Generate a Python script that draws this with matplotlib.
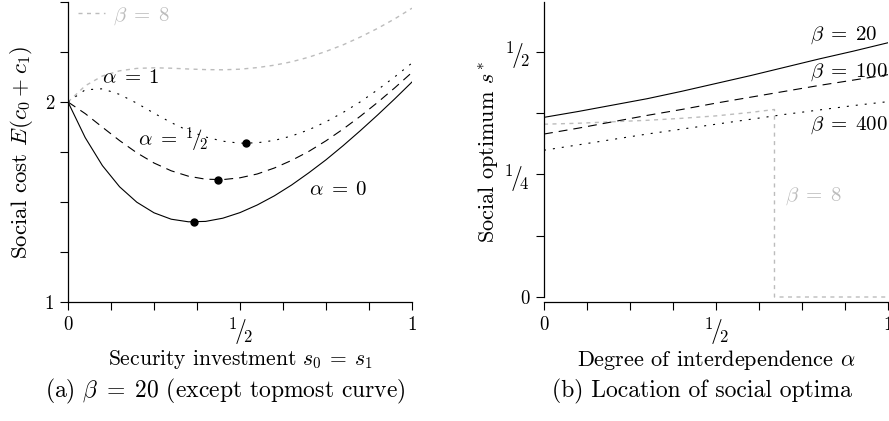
import matplotlib
matplotlib.use('Agg')
import matplotlib.pyplot as plt

plt.rcParams['font.family'] = 'cmr10'
plt.rcParams['mathtext.fontset'] = 'cm'
plt.rcParams['axes.unicode_minus'] = False
plt.rcParams['axes.formatter.use_mathtext'] = True

# ---------------- data: panel (a) ----------------
s_invest = [0.00, 0.05, 0.10, 0.15, 0.20, 0.25, 0.30, 0.35, 0.40, 0.45, 0.50,
            0.55, 0.60, 0.65, 0.70, 0.75, 0.80, 0.85, 0.90, 0.95, 1.00]
cost_alpha0 = [2.000, 1.822, 1.682, 1.576, 1.499, 1.446, 1.414, 1.401, 1.403, 1.419, 1.447,
               1.485, 1.531, 1.585, 1.646, 1.711, 1.782, 1.857, 1.935, 2.016, 2.100]
cost_alpha05 = [2.000, 1.942, 1.874, 1.807, 1.746, 1.695, 1.656, 1.629, 1.614, 1.612, 1.621,
                1.640, 1.670, 1.708, 1.753, 1.806, 1.865, 1.929, 1.998, 2.071, 2.148]
cost_alpha1 = [2.000, 2.061, 2.066, 2.038, 1.994, 1.944, 1.897, 1.856, 1.825, 1.804, 1.794,
               1.796, 1.808, 1.830, 1.861, 1.901, 1.948, 2.001, 2.061, 2.126, 2.195]
cost_beta8 = [2.000, 2.081, 2.130, 2.156, 2.168, 2.171, 2.169, 2.165, 2.162, 2.161, 2.164,
              2.172, 2.184, 2.201, 2.224, 2.253, 2.286, 2.325, 2.368, 2.416, 2.469]
opt_invest = [0.366, 0.435, 0.518]
opt_cost = [1.400, 1.611, 1.794]

# ---------------- data: panel (b) ----------------
alpha = [0.0, 0.1, 0.2, 0.3, 0.4, 0.5, 0.6, 0.7, 0.8, 0.9, 1.0]
sopt_beta20 = [0.366, 0.378, 0.391, 0.404, 0.419, 0.435, 0.451, 0.468, 0.485, 0.501, 0.518]
sopt_beta100 = [0.332, 0.344, 0.357, 0.370, 0.382, 0.395, 0.407, 0.419, 0.431, 0.442, 0.453]
sopt_beta400 = [0.299, 0.310, 0.321, 0.332, 0.342, 0.352, 0.362, 0.372, 0.381, 0.390, 0.398]
alpha_beta8 = [0.0, 0.1, 0.2, 0.3, 0.4, 0.5, 0.6, 0.67, 0.67, 1.0]
sopt_beta8 = [0.352, 0.354, 0.357, 0.360, 0.364, 0.369, 0.376, 0.382, 0.0, 0.0]

HALF = r'${}^{1}\!/\!{}_{2}$'
QUARTER = r'${}^{1}\!/\!{}_{4}$'
xticks = [0, 1/8, 2/8, 3/8, 4/8, 5/8, 6/8, 7/8, 1]
xticklabels = ['0', '', '', '', HALF, '', '', '', '1']
yticks_a = [1, 1.25, 1.5, 1.75, 2, 2.25, 2.5]
yticklabels_a = ['1', '', '', '', '2', '', '']
yticks_b = [0, 1/8, 2/8, 3/8, 4/8]
yticklabels_b = ['0', '', QUARTER, '', HALF]

GRAY = '#bcbcbc'
LW = 0.8
TICK_FS = 13.5
FRAC_FS = 17
LABEL_FS = 16
ANN_FS = 15
CAP_FS = 17

fig = plt.figure(figsize=(8.89, 4.21), dpi=100)
ax1 = fig.add_axes([68/889, 119/421, 344/889, 300/421])
ax2 = fig.add_axes([544/889, 119/421, 344/889, 300/421])

def style(ax):
    for side in ('top', 'right'):
        ax.spines[side].set_visible(False)
    for side in ('left', 'bottom'):
        ax.spines[side].set_linewidth(0.9)
    ax.tick_params(direction='out', length=6, width=0.8, labelsize=TICK_FS, pad=4)

def enlarge_fractions(ax):
    for lab in ax.get_xticklabels() + ax.get_yticklabels():
        if '/' in lab.get_text():
            lab.set_fontsize(FRAC_FS)

# ---- panel (a)
g8, = ax1.plot(s_invest, cost_beta8, color=GRAY, lw=1.0, linestyle=(0, (2.9, 3.2)))
ax1.plot(s_invest, cost_alpha1, color='black', lw=LW, linestyle=(0, (1.8, 6.3)))
ax1.plot(s_invest, cost_alpha05, color='black', lw=LW, linestyle=(0, (8.0, 5.4)))
ax1.plot(s_invest, cost_alpha0, color='black', lw=LW, linestyle='-')
ax1.plot(opt_invest, opt_cost, 'o', color='black', markersize=5, zorder=5)
ax1.set_xlim(0, 1)
ax1.set_ylim(1, 2.5)
style(ax1)
ax1.set_xticks(xticks)
ax1.set_xticklabels(xticklabels)
ax1.set_yticks(yticks_a)
ax1.set_yticklabels(yticklabels_a)
enlarge_fractions(ax1)
ax1.set_xlabel(r'Security investment $s_0\:=\:s_1$', fontsize=LABEL_FS - 0.5, labelpad=1)
ax1.set_ylabel(r'Social cost $E(c_0\:+\:c_1)$', fontsize=LABEL_FS + 0.5, labelpad=7)
ax1.text(0.10, 2.12, r'$\alpha\;=\;1$', fontsize=ANN_FS, ha='left', va='center')
ax1.text(0.203, 1.806, r'$\alpha\;=\;{}^{1}\!/\!{}_{2}$', fontsize=ANN_FS, ha='left', va='center')
ax1.text(0.70, 1.562, r'$\alpha\;=\;0$', fontsize=ANN_FS, ha='left', va='center')
ax1.legend([g8], [r'$\beta\;=\;8$'], loc='upper left', frameon=False, fontsize=ANN_FS,
           handlelength=1.3, handletextpad=0.4, borderpad=0.0, borderaxespad=0.0,
           bbox_to_anchor=(0.029, 0.99), labelcolor=GRAY)

# ---- panel (b)
ax2.plot(alpha_beta8, sopt_beta8, color=GRAY, lw=1.0, linestyle=(0, (2.9, 3.2)))
ax2.plot(alpha, sopt_beta20, color='black', lw=LW, linestyle='-')
ax2.plot(alpha, sopt_beta100, color='black', lw=LW, linestyle=(0, (8.0, 5.4)))
ax2.plot(alpha, sopt_beta400, color='black', lw=LW, linestyle=(0, (1.8, 6.3)))
ax2.set_xlim(0, 1)
ax2.set_ylim(-0.0102, 0.601)
style(ax2)
ax2.spines['left'].set_bounds(0, 0.601)
ax2.set_xticks(xticks)
ax2.set_xticklabels(xticklabels)
ax2.set_yticks(yticks_b)
ax2.set_yticklabels(yticklabels_b)
enlarge_fractions(ax2)
ax2.set_xlabel(r'Degree of interdependence $\alpha$', fontsize=LABEL_FS, labelpad=1)
ax2.set_ylabel(r'Social optimum $s^*$', fontsize=LABEL_FS, labelpad=2)
ax2.text(0.773, 0.534, r'$\beta\;=\;20$', fontsize=ANN_FS, ha='left', va='center')
ax2.text(0.773, 0.458, r'$\beta\;=\;100$', fontsize=ANN_FS, ha='left', va='center')
ax2.text(0.773, 0.350, r'$\beta\;=\;400$', fontsize=ANN_FS, ha='left', va='center')
ax2.text(0.70, 0.206, r'$\beta\;=\;8$', fontsize=ANN_FS, ha='left', va='center', color=GRAY)

fig.text(225.5/889, 30/421, r'(a) $\beta\;=\;20$ (except topmost curve)', fontsize=CAP_FS,
         ha='center', va='center')
fig.text(702/889, 30/421, r'(b) Location of social optima', fontsize=CAP_FS,
         ha='center', va='center')

fig.savefig('out.png', dpi=100)
